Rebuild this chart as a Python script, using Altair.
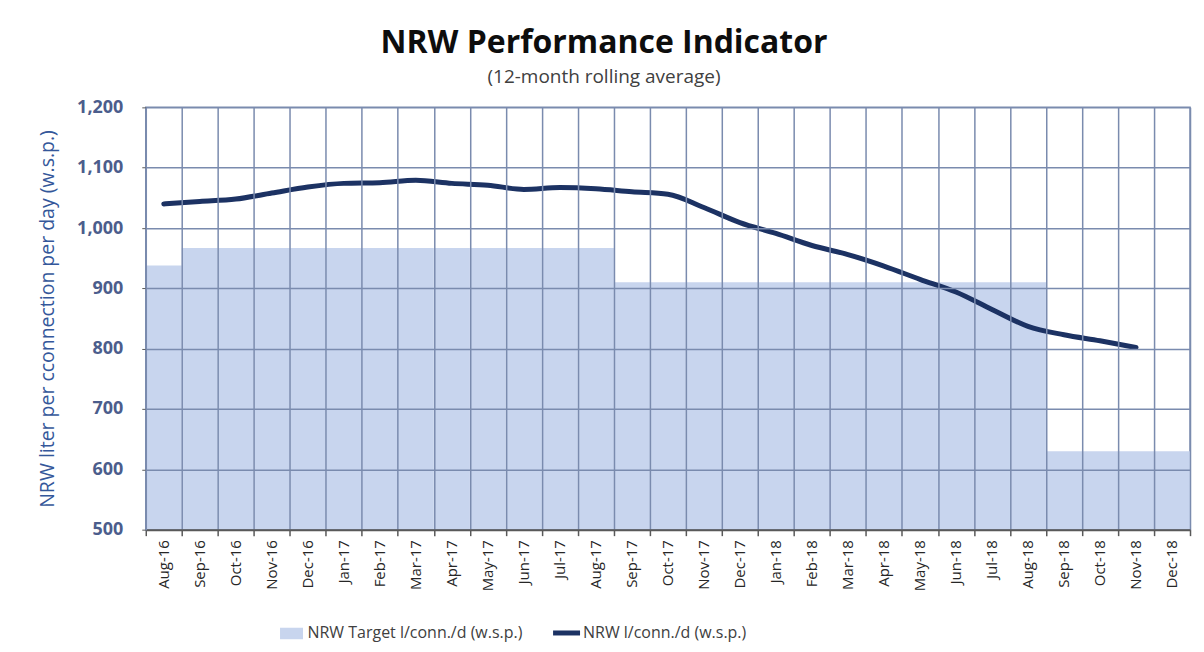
import altair as alt
import pandas as pd

months = ["Aug-16", "Sep-16", "Oct-16", "Nov-16", "Dec-16",
          "Jan-17", "Feb-17", "Mar-17", "Apr-17", "May-17", "Jun-17", "Jul-17",
          "Aug-17", "Sep-17", "Oct-17", "Nov-17", "Dec-17",
          "Jan-18", "Feb-18", "Mar-18", "Apr-18", "May-18", "Jun-18", "Jul-18",
          "Aug-18", "Sep-18", "Oct-18", "Nov-18", "Dec-18"]

target = [938, 967, 967, 967, 967, 967, 967, 967, 967, 967, 967, 967, 967,
          910, 910, 910, 910, 910, 910, 910, 910, 910, 910, 910, 910,
          630, 630, 630, 630]

nrw = [1040, 1044, 1048, 1058, 1068, 1074, 1075, 1079, 1074, 1071, 1064, 1067,
       1065, 1060, 1056, 1034, 1009, 991, 971, 956, 937, 915, 894, 865, 837,
       823, 813, 802, None]

target_name = "NRW Target l/conn./d (w.s.p.)"
nrw_name = "NRW l/conn./d (w.s.p.)"
y_ticks = [500, 600, 700, 800, 900, 1000, 1100, 1200]

df = pd.DataFrame({"month": months, "target": target, "nrw": nrw})
df["s_target"] = target_name
df["s_nrw"] = nrw_name

FONT = "Open Sans"
GRID = "#7a8bae"

x_enc = alt.X(
    "month:O", sort=months, title=None,
    scale=alt.Scale(paddingInner=0, paddingOuter=0),
    axis=alt.Axis(
        tickBand="extent", grid=True, gridColor=GRID, gridWidth=1.5,
        ticks=True, tickColor="#595959", tickSize=6, tickWidth=1.5,
        domainColor="#595959", domainWidth=2,
        labelAngle=270, labelFont=FONT, labelFontSize=15,
        labelColor="#262626", labelPadding=4, zindex=1,
    ),
)

y_scale = alt.Scale(domain=[500, 1200], zero=False, nice=False)
y_axis = alt.Axis(
    values=y_ticks, format=",.0f", grid=True, gridColor=GRID, gridWidth=1.5,
    domainColor=GRID, domainWidth=1.5, tickColor="#595959", tickSize=4,
    labelFont=FONT, labelFontSize=18, labelFontWeight="bold",
    labelColor="#4b5d8c", labelPadding=19,
    title="NRW liter per cconnection per day (w.s.p.)",
    titleFont=FONT, titleFontSize=19.5, titleFontWeight="normal",
    titleColor="#34579a", titlePadding=19, zindex=1,
)

bars = alt.Chart(df).mark_bar(clip=True).encode(
    x=x_enc,
    y=alt.Y("target:Q", scale=y_scale, axis=y_axis),
    y2=alt.datum(500),
    fill=alt.Fill(
        "s_target:N",
        scale=alt.Scale(domain=[target_name], range=["#c8d5ee"]),
        legend=alt.Legend(
            title=None, orient="none", legendX=134, legendY=515,
            symbolType="M-1,-0.5H1V0.5H-1Z", symbolSize=530,
            symbolStrokeWidth=0, labelFont=FONT, labelFontSize=16,
            labelColor="#404040", labelOffset=4, labelLimit=0,
        ),
    ),
)

line = alt.Chart(df).transform_filter("datum.nrw != null").mark_line(
    strokeWidth=5, interpolate="monotone", strokeCap="round"
).encode(
    x=alt.X("month:O", sort=months),
    y=alt.Y("nrw:Q", scale=y_scale),
    stroke=alt.Stroke(
        "s_nrw:N",
        scale=alt.Scale(domain=[nrw_name], range=["#1c3263"]),
        legend=alt.Legend(
            title=None, orient="none", legendX=405, legendY=510,
            symbolType="stroke", symbolSize=730, symbolStrokeWidth=5,
            labelFont=FONT, labelFontSize=16, labelColor="#404040",
            labelOffset=0, labelLimit=0,
        ),
    ),
)

chart = alt.layer(bars, line).properties(
    width=1046, height=423,
    autosize=alt.AutoSizeParams(type="none"),
    padding={"left": 138, "top": 99, "right": 6, "bottom": 112},
    background="white",
    title=alt.TitleParams(
        text="NRW Performance Indicator",
        subtitle="(12-month rolling average)",
        anchor="middle", dx=-64, offset=10,
        font=FONT, fontSize=32, fontWeight="bold", color="#0d0d0d",
        subtitleFont=FONT, subtitleFontSize=19, subtitleColor="#404040",
        subtitlePadding=8,
    ),
).configure_view(stroke=GRID, strokeWidth=1.5)

chart.save("out.html", embed_options={"renderer": "svg", "actions": False})
